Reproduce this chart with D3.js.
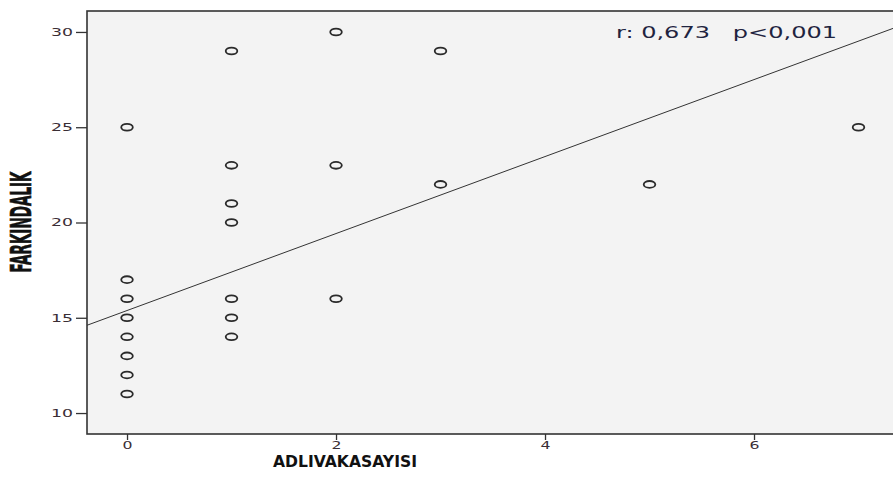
<!DOCTYPE html>
<html>
<head>
<meta charset="utf-8">
<script src="https://cdn.jsdelivr.net/npm/d3@7"></script>
<style>
  body { margin: 0; background: #fff; }
</style>
</head>
<body>
<div id="chart"></div>
<script>
// data
var adliVaka   = [0, 0, 0, 0, 0, 0, 0, 0, 1, 1, 1, 1, 1, 1, 1, 2, 2, 2, 3, 3, 5, 7];
var farkindalik = [25, 17, 16, 15, 14, 13, 12, 11, 29, 23, 21, 20, 16, 15, 14, 30, 23, 16, 29, 22, 22, 25];
var xTicks = [0, 2, 4, 6];
var yTicks = [10, 15, 20, 25, 30];
var fitLine = { intercept: 15.38, slope: 2.02 };
var statText = "r: 0,673   p<0,001";

var width = 893, height = 479;
var margin = { top: 11, right: 0, bottom: 45, left: 87 };

var svg = d3.select("#chart")
  .append("svg")
  .attr("width", width)
  .attr("height", height);

// scales
var x = d3.scaleLinear().domain([-0.383, 7.33]).range([margin.left, width - margin.right]);
var y = d3.scaleLinear().domain([8.9, 31.1]).range([height - margin.bottom, margin.top]);

// plot background + frame
svg.append("rect")
  .attr("x", x(-0.383))
  .attr("y", y(31.1))
  .attr("width", width + 10 - x(-0.383))
  .attr("height", y(8.9) - y(31.1))
  .attr("fill", "#f3f3f3")
  .attr("stroke", "#333")
  .attr("stroke-width", 1.6);

// y axis
var yAxis = svg.append("g")
  .attr("transform", "translate(" + x(-0.383) + ",0)")
  .call(d3.axisLeft(y).tickValues(yTicks).tickSize(11).tickPadding(3));
yAxis.select(".domain").remove();
yAxis.selectAll(".tick line").attr("stroke", "#333").attr("stroke-width", 1.3);
yAxis.selectAll(".tick text")
  .attr("fill", "#3a2e35")
  .attr("font-family", "DejaVu Sans, Verdana, sans-serif")
  .attr("font-size", "10.5px")
  .attr("textLength", 22)
  .attr("lengthAdjust", "spacingAndGlyphs");

// x axis
var xAxis = svg.append("g")
  .attr("transform", "translate(0," + y(8.9) + ")")
  .call(d3.axisBottom(x).tickValues(xTicks).tickSize(6).tickPadding(2));
xAxis.select(".domain").remove();
xAxis.selectAll(".tick line").attr("stroke", "#333").attr("stroke-width", 1.3);
xAxis.selectAll(".tick text")
  .attr("fill", "#3a2e35")
  .attr("font-family", "DejaVu Sans, Verdana, sans-serif")
  .attr("font-size", "10.5px")
  .attr("textLength", 10)
  .attr("lengthAdjust", "spacingAndGlyphs");

// regression line
var x0 = -0.383, x1 = 7.4;
svg.append("line")
  .attr("x1", x(x0))
  .attr("y1", y(fitLine.intercept + fitLine.slope * x0))
  .attr("x2", x(x1))
  .attr("y2", y(fitLine.intercept + fitLine.slope * x1))
  .attr("stroke", "#333")
  .attr("stroke-width", 1);

// points
svg.selectAll("ellipse.pt")
  .data(adliVaka)
  .enter()
  .append("ellipse")
  .attr("class", "pt")
  .attr("cx", function(d) { return x(d); })
  .attr("cy", function(d, i) { return y(farkindalik[i]); })
  .attr("rx", 5.8)
  .attr("ry", 3.4)
  .attr("fill", "none")
  .attr("stroke", "#2a2a2a")
  .attr("stroke-width", 1.8);

// annotation
svg.append("text")
  .attr("x", 616)
  .attr("y", 38)
  .attr("fill", "#1f2440")
  .attr("font-family", "DejaVu Sans, Verdana, sans-serif")
  .attr("font-size", "15px")
  .attr("textLength", 221)
  .attr("lengthAdjust", "spacingAndGlyphs")
  .attr("xml:space", "preserve")
  .style("white-space", "pre")
  .text(statText);

// axis titles
svg.append("text")
  .attr("x", 345)
  .attr("y", 467)
  .attr("text-anchor", "middle")
  .attr("fill", "#111")
  .attr("font-family", "DejaVu Sans, Verdana, sans-serif")
  .attr("font-weight", "bold")
  .attr("font-size", "15px")
  .attr("textLength", 144)
  .attr("lengthAdjust", "spacingAndGlyphs")
  .text("ADLIVAKASAYISI");

svg.append("text")
  .attr("transform", "translate(31,222) rotate(-90)")
  .attr("text-anchor", "middle")
  .attr("fill", "#111")
  .attr("font-family", "Liberation Sans Narrow, DejaVu Sans Condensed, sans-serif")
  .attr("font-weight", "bold")
  .attr("font-size", "28px")
  .attr("stroke", "#111")
  .attr("stroke-width", 0.6)
  .attr("textLength", 101)
  .attr("lengthAdjust", "spacingAndGlyphs")
  .text("FARKINDALIK");
</script>
</body>
</html>
